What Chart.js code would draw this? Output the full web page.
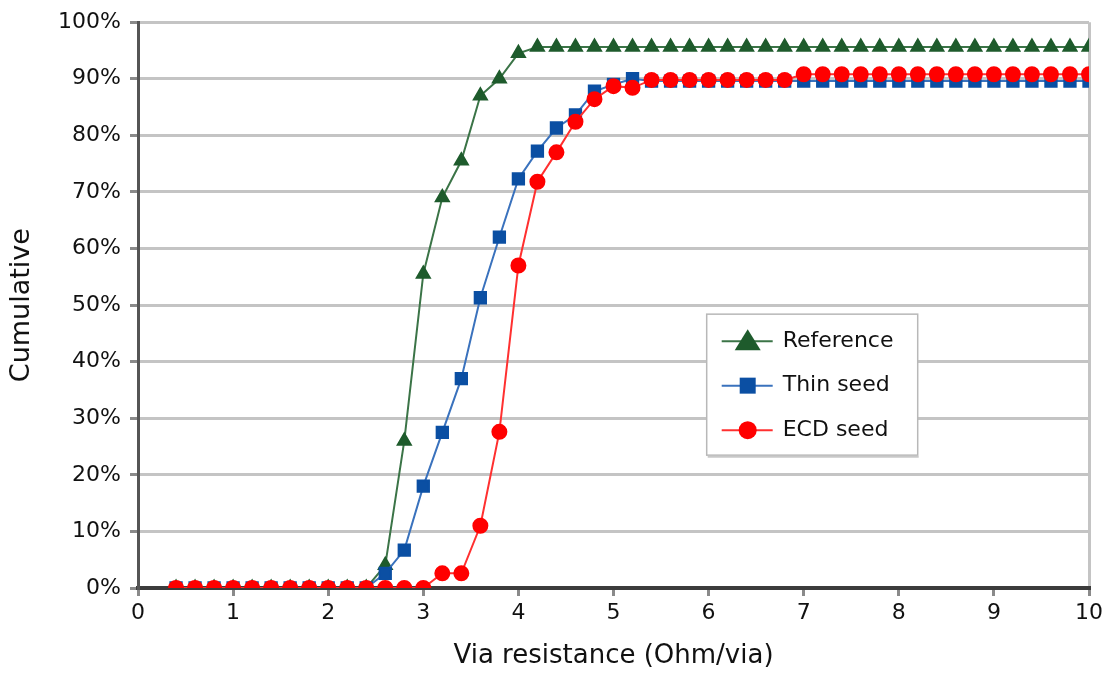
<!DOCTYPE html>
<html>
<head>
<meta charset="utf-8">
<script src="https://cdn.jsdelivr.net/npm/chart.js@4/dist/chart.umd.min.js"></script>
<style>
  html, body { margin: 0; padding: 0; background: #fff; }
</style>
</head>
<body>
<canvas id="viaChart" width="1104" height="673"></canvas>
<script>
// x 값 (Ohm/via)
const resistance = [0.4, 0.6, 0.8, 1.0, 1.2, 1.4, 1.6, 1.8, 2.0, 2.2, 2.4, 2.6, 2.8, 3.0, 3.2, 3.4, 3.6, 3.8, 4.0,
  4.2, 4.4, 4.6, 4.8, 5.0, 5.2, 5.4, 5.6, 5.8, 6.0, 6.2, 6.4, 6.6, 6.8, 7.0, 7.2, 7.4, 7.6, 7.8, 8.0,
  8.2, 8.4, 8.6, 8.8, 9.0, 9.2, 9.4, 9.6, 9.8, 10.0];

// 누적 % 값
const reference = [0, 0, 0, 0, 0, 0, 0, 0, 0, 0, 0, 4, 26, 55.5, 69, 75.5, 87, 90, 94.5,
  95.6, 95.6, 95.6, 95.6, 95.6, 95.6, 95.6, 95.6, 95.6, 95.6, 95.6, 95.6, 95.6, 95.6, 95.6, 95.6, 95.6, 95.6, 95.6, 95.6,
  95.6, 95.6, 95.6, 95.6, 95.6, 95.6, 95.6, 95.6, 95.6, 95.6];
const thinSeed = [0, 0, 0, 0, 0, 0, 0, 0, 0, 0, 0, 2.6, 6.7, 18, 27.5, 37, 51.3, 62, 72.3,
  77.2, 81.3, 83.6, 87.8, 89, 90, 89.6, 89.6, 89.6, 89.6, 89.6, 89.6, 89.6, 89.6, 89.6, 89.6, 89.6, 89.6, 89.6, 89.6,
  89.6, 89.6, 89.6, 89.6, 89.6, 89.6, 89.6, 89.6, 89.6, 89.6];
const ecdSeed = [0, 0, 0, 0, 0, 0, 0, 0, 0, 0, 0, 0, 0, 0, 2.6, 2.6, 11, 27.6, 57,
  71.8, 77, 82.4, 86.4, 88.7, 88.4, 89.8, 89.8, 89.8, 89.8, 89.8, 89.8, 89.8, 89.8, 90.8, 90.8, 90.8, 90.8, 90.8, 90.8,
  90.8, 90.8, 90.8, 90.8, 90.8, 90.8, 90.8, 90.8, 90.8, 90.8];

const seriesNames = ['Reference', 'Thin seed', 'ECD seed'];

const FONT = 'DejaVu Sans';

function toPoints(values) {
  return resistance.map((x, i) => ({ x: x, y: values[i] }));
}

// 차트 안쪽 범례 (박스)
const insideLegend = {
  id: 'insideLegend',
  afterDatasetsDraw(chart) {
    const { ctx, chartArea } = chart;
    const left = chartArea.left + (chartArea.right - chartArea.left) * 0.598;
    const top = chartArea.top + (chartArea.bottom - chartArea.top) * 0.516;
    const w = 211, h = 141;
    ctx.save();
    ctx.fillStyle = '#fff';
    ctx.fillRect(left, top, w, h);
    ctx.strokeStyle = '#b8b8b8';
    ctx.lineWidth = 1.5;
    ctx.strokeRect(left, top, w, h);
    ctx.strokeStyle = '#c8c8c8';
    ctx.lineWidth = 2;
    ctx.beginPath();
    ctx.moveTo(left + 1, top + h + 1.5);
    ctx.lineTo(left + w + 1, top + h + 1.5);
    ctx.stroke();

    chart.data.datasets.forEach((ds, i) => {
      const y = top + 27 + i * 44.5;
      const cx = left + 41;
      ctx.strokeStyle = ds.borderColor;
      ctx.lineWidth = 2;
      ctx.beginPath();
      ctx.moveTo(left + 15, y);
      ctx.lineTo(left + 66, y);
      ctx.stroke();
      ctx.fillStyle = ds.pointBackgroundColor;
      ctx.beginPath();
      if (ds.pointStyle === 'triangle') {
        ctx.moveTo(cx, y - 12);
        ctx.lineTo(cx + 13, y + 9);
        ctx.lineTo(cx - 13, y + 9);
        ctx.closePath();
      } else if (ds.pointStyle === 'rect') {
        ctx.rect(cx - 8, y - 8, 16, 16);
      } else {
        ctx.arc(cx, y, 9, 0, Math.PI * 2);
      }
      ctx.fill();
      ctx.fillStyle = '#111';
      ctx.font = '22px ' + FONT;
      ctx.textBaseline = 'middle';
      ctx.textAlign = 'left';
      ctx.fillText(ds.label, left + 76, y);
    });
    ctx.restore();
  }
};

const ctx = document.getElementById('viaChart').getContext('2d');

new Chart(ctx, {
  type: 'line',
  data: {
    datasets: [{
      label: seriesNames[0],
      data: toPoints(reference),
      borderColor: '#3b7447',
      pointBackgroundColor: '#1e5b2c',
      pointBorderColor: '#1e5b2c',
      pointStyle: 'triangle',
      pointRadius: 7.5,
      borderWidth: 2,
      order: 3
    }, {
      label: seriesNames[1],
      data: toPoints(thinSeed),
      borderColor: '#3a72bd',
      pointBackgroundColor: '#0b4fa3',
      pointBorderColor: '#0b4fa3',
      pointStyle: 'rect',
      pointRadius: 8,
      borderWidth: 2,
      order: 2
    }, {
      label: seriesNames[2],
      data: toPoints(ecdSeed),
      borderColor: '#ff3030',
      pointBackgroundColor: '#ff0000',
      pointBorderColor: '#ff0000',
      pointStyle: 'circle',
      pointRadius: 7,
      borderWidth: 2,
      order: 1
    }]
  },
  options: {
    responsive: false,
    animation: false,
    layout: { padding: { top: 19, right: 15 } },
    plugins: {
      legend: { display: false },
      tooltip: { enabled: false }
    },
    scales: {
      x: {
        type: 'linear',
        min: 0,
        max: 10,
        afterFit: (scale) => { scale.height = 85; scale.paddingRight = 0; },
        ticks: {
          stepSize: 1,
          color: '#111',
          padding: 4,
          font: { family: FONT, size: 22 }
        },
        grid: {
          color: (c) => (c.tick && c.tick.value === 10 ? '#c4c4c4' : 'rgba(0,0,0,0)'),
          lineWidth: 3,
          tickColor: '#8a8a8a',
          tickLength: 8
        },
        border: { color: '#3c3c3c', width: 4 },
        title: {
          display: true,
          text: 'Via resistance (Ohm/via)',
          color: '#111',
          font: { family: FONT, size: 26 },
          padding: { top: 0, bottom: 1 }
        }
      },
      y: {
        min: 0,
        max: 100,
        afterFit: (scale) => { scale.width = 138; },
        ticks: {
          stepSize: 10,
          color: '#111',
          padding: 9,
          font: { family: FONT, size: 22 },
          callback: (v) => v + '%'
        },
        grid: {
          color: '#c4c4c4',
          lineWidth: 3,
          tickColor: '#8a8a8a',
          tickLength: 8
        },
        border: { color: '#555', width: 3 },
        title: {
          display: true,
          text: 'Cumulative',
          color: '#111',
          font: { family: FONT, size: 27 },
          padding: { top: 6, bottom: 0 }
        }
      }
    }
  },
  plugins: [insideLegend]
});
</script>
</body>
</html>
